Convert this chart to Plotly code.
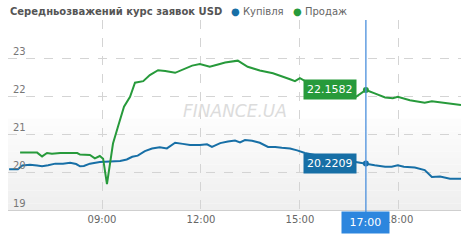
import plotly.graph_objects as go

DAY = "2014-02-20 "

buy_times = ["06:11","06:27","06:35","06:49","07:02","07:11","07:22","07:35","07:49","08:02","08:13","08:20","08:27","08:38","08:56","09:15","09:33","09:45","09:55","10:05","10:18","10:31","10:45","10:58","11:13","11:27","11:40","11:58","12:11","12:20","12:35","12:49","13:02","13:11","13:20","13:33","13:47","14:02","14:15","14:27","14:42","14:55","15:09","15:27","15:55","16:22","16:44","17:00","17:16","17:35","17:47","17:58","18:09","18:29","18:47","19:00","19:15","19:33","19:53"]
buy_values = [20.07,20.07,20.17,20.19,20.17,20.15,20.18,20.22,20.22,20.24,20.21,20.15,20.16,20.22,20.26,20.27,20.29,20.33,20.40,20.43,20.55,20.62,20.65,20.62,20.77,20.74,20.71,20.71,20.73,20.66,20.76,20.80,20.83,20.78,20.84,20.82,20.77,20.66,20.66,20.64,20.62,20.57,20.50,20.45,20.38,20.30,20.26,20.2209,20.18,20.14,20.14,20.18,20.14,20.12,20.05,19.87,19.88,19.82,19.82]

sell_times = ["06:31","07:02","07:11","07:20","07:29","07:44","08:15","08:20","08:38","08:47","08:56","09:02","09:09","09:15","09:20","09:29","09:40","09:51","10:00","10:15","10:27","10:42","10:55","11:13","11:31","11:44","11:58","12:16","12:31","12:44","13:07","13:25","13:47","14:11","14:42","14:51","15:00","15:11","15:36","16:13","16:42","17:00","17:16","17:35","17:49","17:58","18:20","18:47","19:00","19:24","19:53"]
sell_values = [20.51,20.51,20.41,20.50,20.48,20.50,20.50,20.46,20.45,20.36,20.42,20.35,19.68,20.20,20.75,21.19,21.72,21.98,22.35,22.39,22.55,22.68,22.66,22.61,22.73,22.80,22.84,22.77,22.83,22.88,22.93,22.77,22.67,22.60,22.44,22.39,22.47,22.38,22.30,22.20,21.98,22.1582,22.07,21.96,21.94,21.98,21.89,21.82,21.86,21.81,21.76]

x_ticks = ["09:00", "12:00", "15:00", "18:00"]
y_ticks = [19, 20, 21, 22, 23]
y_grid = [20, 21, 22, 23, 24]
cursor_time = "17:00"
cursor_buy = 20.2209
cursor_sell = 22.1582
title_text = "Середньозважений курс заявок USD"
series_names = ["Купівля", "Продаж"]

BLUE = "#176fa6"
GREEN = "#279a3b"
CURSOR = "#2d86de"
FONT = "DejaVu Sans"

def t(s):
    return DAY + s

fig = go.Figure()
fig.add_trace(go.Scatter(x=[t(s) for s in buy_times], y=buy_values, mode="lines",
                         line=dict(color=BLUE, width=2), name=series_names[0], hoverinfo="skip"))
fig.add_trace(go.Scatter(x=[t(s) for s in sell_times], y=sell_values, mode="lines",
                         line=dict(color=GREEN, width=2), name=series_names[1], hoverinfo="skip"))
fig.add_trace(go.Scatter(x=[t(cursor_time), t(cursor_time)], y=[cursor_buy, cursor_sell], mode="markers",
                         marker=dict(color=[BLUE, GREEN], size=6), hoverinfo="skip"))

shapes = []
n = 14
top, bot = 21.4, 19.0
for i in range(n):
    y0 = top - (top - bot) * i / n
    y1 = top - (top - bot) * (i + 1) / n
    g = int(254 - 15 * (i + 1) / n)
    shapes.append(dict(type="rect", xref="paper", yref="y", x0=0, x1=1, y0=y1, y1=y0,
                       fillcolor=f"rgb({g},{g},{g})", line=dict(width=0), layer="below"))
shapes.append(dict(type="line", xref="x", yref="paper", x0=t(cursor_time), x1=t(cursor_time),
                   y0=-0.01, y1=1, line=dict(color="#4a8fdc", width=1.3)))

PW = 453.0
def px(p):
    return (p - 8) / PW

annotations = []
for v in y_ticks:
    annotations.append(dict(xref="paper", yref="y", x=0, y=v, text=str(v), showarrow=False,
                            xanchor="left", yanchor="bottom", xshift=3, yshift=-1,
                            font=dict(family=FONT, size=10, color="#777")))
annotations.append(dict(xref="paper", yref="paper", x=px(235), y=0.5, yshift=4, text="<i>FINANCE.UA</i>",
                        showarrow=False, font=dict(family=FONT, size=17, color="#dcdcdc")))
annotations.append(dict(xref="x", yref="y", x=t(cursor_time), y=cursor_sell, text=f"{cursor_sell:.4f}",
                        showarrow=False, xanchor="right", xshift=-9, bgcolor=GREEN, borderpad=3,
                        font=dict(family=FONT, size=11, color="white")))
annotations.append(dict(xref="x", yref="y", x=t(cursor_time), y=cursor_buy, text=f"{cursor_buy:.4f}",
                        showarrow=False, xanchor="right", xshift=-9, bgcolor=BLUE, borderpad=3,
                        font=dict(family=FONT, size=11, color="white")))
annotations.append(dict(xref="x", yref="paper", x=t(cursor_time), y=0, text=" " + cursor_time + " ",
                        showarrow=False, xanchor="center", yanchor="top", yshift=-1, bgcolor=CURSOR,
                        borderpad=4, font=dict(family=FONT, size=11, color="white")))
annotations.append(dict(xref="paper", yref="paper", x=px(8), y=1, yshift=9, xanchor="left", yanchor="middle",
                        showarrow=False, text=f"<b>{title_text}</b>",
                        font=dict(family=FONT, size=10, color="#555")))
annotations.append(dict(xref="paper", yref="paper", x=px(229), y=1, yshift=9, xanchor="left", yanchor="middle",
                        showarrow=False,
                        text=(f"<span style='color:{BLUE}'>●</span> {series_names[0]}   "
                              f"<span style='color:{GREEN}'>●</span> {series_names[1]}"),
                        font=dict(family=FONT, size=10, color="#666")))

fig.update_layout(
    width=470, height=240, margin=dict(l=8, r=9, t=20, b=30),
    paper_bgcolor="white", plot_bgcolor="white", showlegend=False,
    shapes=shapes, annotations=annotations,
    xaxis=dict(type="date", range=[t("06:09"), t("19:53")],
               tickvals=[t(s) for s in x_ticks], ticktext=x_ticks,
               showgrid=True, gridcolor="#d4d4d4", griddash="dash", gridwidth=1,
               showline=True, linecolor="#cfcfcf", linewidth=1, ticks="", zeroline=False,
               tickfont=dict(family=FONT, size=10, color="#666")),
    yaxis=dict(range=[19, 24], tickvals=y_grid, showticklabels=False,
               showgrid=True, gridcolor="#d4d4d4", griddash="dash", gridwidth=1,
               zeroline=False, showline=False),
)

fig.write_html("out.html")
